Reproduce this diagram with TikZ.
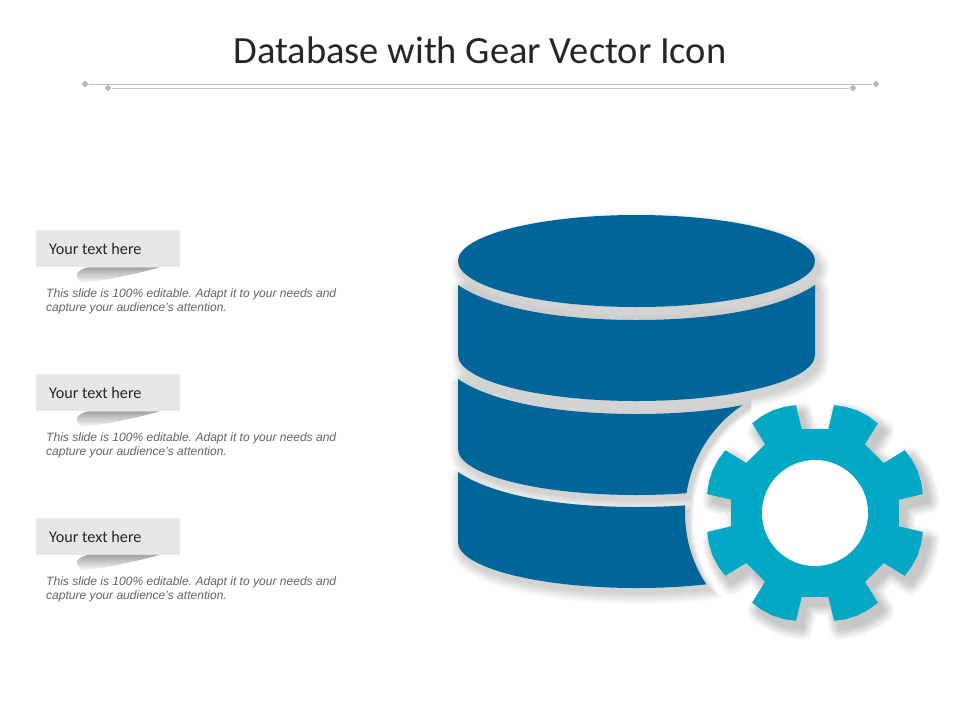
\documentclass[tikz,border=0pt]{standalone}
\usepackage{fontspec}
\setmainfont{Liberation Sans}
\newfontfamily\headfont{Carlito}
\usetikzlibrary{shapes.geometric}
\definecolor{dbblue}{RGB}{0,102,153}
\definecolor{gearblue}{RGB}{3,168,197}
\definecolor{tagfill}{RGB}{230,231,232}
\definecolor{rulegray}{RGB}{190,190,190}
\definecolor{dotgray}{RGB}{185,185,185}
\definecolor{bodygray}{RGB}{100,100,100}
\tikzset{
  x=1pt,y=-1pt,
  titletext/.style={font=\headfont\fontsize{38.5}{44}\selectfont,text=black!85,inner sep=0pt},
  tagbox/.style={fill=tagfill,draw=none,minimum width=144pt,minimum height=37pt,inner sep=0pt,anchor=north west},
  tagtext/.style={font=\headfont\fontsize{16.2}{18}\selectfont,text=black!85,inner sep=0pt,anchor=west},
  bodytext/.style={font=\frenchspacing\itshape\fontsize{12.05}{14}\selectfont,text=bodygray,inner sep=0pt,anchor=north west,align=left},
  rulemark/.style={diamond,fill=dotgray,draw=none,minimum width=7pt,minimum height=7pt,inner sep=0pt},
  ruleline/.style={draw=rulegray,line width=1pt},
  softshade/.style={black,line join=round},
  shadowlayer/.style={transparency group,opacity=#1},
  curl/.style={top color=black!36,bottom color=black!3,draw=none}
}
\newcommand{\bandshape}{(458,285) .. controls (495,310) and (565,320) .. (636.5,320)
  .. controls (708,320) and (778,310) .. (815,285) -- (815,355)
  .. controls (815,380.4) and (735.1,401) .. (636.5,401)
  .. controls (537.9,401) and (458,380.4) .. (458,355) -- cycle}
\newcommand{\gearshape}{(-9:85) \foreach \a in {0,45,...,315}{
  -- ({\a+9}:85) -- ({\a+10}:109.5) -- ({\a+16}:110.5) -- ({\a+22.5}:111) -- ({\a+29}:110.5) -- ({\a+35}:109.5) -- ({\a+36}:85)} -- cycle}
\newcommand{\tagblock}[2]{%
  \node[tagbox] (box#2) at (36,#1) {};
  \node[tagtext] (tag#2) at (49,#1+19) {Your text here};
  \shade[curl] (160,#1+37.3) -- (88,#1+37.3) .. controls (80,#1+39) and (76,#1+43) .. (77,#1+46) .. controls (78,#1+50) and (80,#1+52) .. (84,#1+52.5) .. controls (110,#1+50) and (135,#1+44) .. (160,#1+37.3) -- cycle;
  \node[bodytext] (body#2) at (46,#1+59) {This slide is 100\% editable. Adapt it to your needs and\\capture your audience's attention.};
}
\begin{document}
\begin{tikzpicture}
\useasboundingbox (0,0) rectangle (960,720);
\fill[white] (0,0) rectangle (960,720);

\node[titletext] (title) at (480,50) {Database with Gear Vector Icon};

\node[rulemark] (la) at (85,84) {};
\node[rulemark] (ra) at (876,84) {};
\node[rulemark] (lb) at (108,88) {};
\node[rulemark] (rb) at (853,88) {};
\draw[ruleline] (la) -- (ra);
\draw[ruleline] (lb) -- (rb);

\tagblock{230}{a}
\tagblock{374}{b}
\tagblock{517.5}{c}

% soft shadows
\foreach \d in {1,...,11}{
  \begin{scope}[shadowlayer=.014,shift={(4,8)}]
    \filldraw[softshade,line width=2*\d] (636.5,261) ellipse [x radius=178.5, y radius=46];
  \end{scope}
  \begin{scope}[shadowlayer=.014,shift={(4,6)}]
    \filldraw[softshade,line width=2*\d] \bandshape;
  \end{scope}
  \begin{scope}[shadowlayer=.014,shift={(3,5)}]
    \clip (-50,-50) rectangle (748,770);
    \begin{scope}[even odd rule]
    \clip (-50,-50) rectangle (1010,770) (815,513) circle [radius=130-\d/2];
    \filldraw[softshade,line width=2*\d,shift={(0,94)}] \bandshape;
    \filldraw[softshade,line width=2*\d,shift={(0,187)}] \bandshape;
    \end{scope}
  \end{scope}
  \begin{scope}[shadowlayer=.02,shift={(821,521)}]
    \filldraw[softshade,line width=2*\d] \gearshape;
  \end{scope}
}

% database
\fill[dbblue] \bandshape;
\begin{scope}
  \clip (-50,-50) rectangle (748,770);
  \begin{scope}[even odd rule]
  \clip (-50,-50) rectangle (1010,770) (815,513) circle [radius=130];
  \fill[dbblue,shift={(0,94)}] \bandshape;
  \fill[dbblue,shift={(0,187)}] \bandshape;
  \end{scope}
\end{scope}
\fill[dbblue] (636.5,261) ellipse [x radius=178.5, y radius=46];

% gear
\begin{scope}[shift={(815,513)}]
  \fill[gearblue] \gearshape;
  \fill[white] (0,0) circle [radius=53];
\end{scope}
\end{tikzpicture}
\end{document}
